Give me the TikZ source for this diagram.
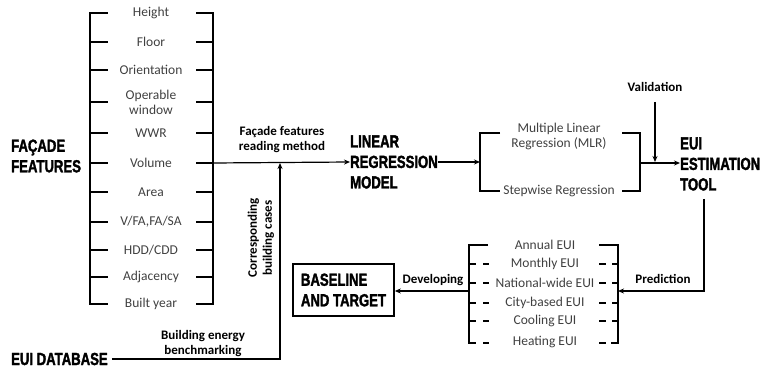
\documentclass[tikz,border=0pt]{standalone}
\usepackage{fontspec}
\setmainfont{Carlito}
\newfontfamily\headfont[FakeStretch=0.75,FakeBold=1.8]{Liberation Sans Bold}
\usetikzlibrary{arrows.meta}
\begin{document}
\begin{tikzpicture}[x=1pt,y=-1pt,
  every node/.style={inner sep=1pt},
  item/.style={align=center, text=black!75, font=\fontsize{13.5}{15}\selectfont},
  lbl/.style={align=center, font=\fontsize{13}{15}\selectfont\bfseries},
  head/.style={align=left, inner sep=0pt, font=\headfont\fontsize{17.5}{20.5}\selectfont},
  brk/.style={line width=1.6pt},
  ln/.style={line width=1.2pt},
  arr/.style={line width=1.2pt, -{Stealth[length=6pt,width=5pt]}}]
\useasboundingbox (0,0) rectangle (765,371);

% ---------- facade features list ----------
\node[head, anchor=west] (ff) at (11,156) {FAÇADE\\FEATURES};
\node[item] (i1) at (151,13) {Height};
\node[item] (i2) at (151,42) {Floor};
\node[item] (i3) at (151,70) {Orientation};
\node[item] (i4) at (151,102) {Operable\\window};
\node[item] (i5) at (151,133) {WWR};
\node[item] (i6) at (151,163) {Volume};
\node[item] (i7) at (151,192) {Area};
\node[item] (i8) at (151,222) {V/FA,FA/SA};
\node[item] (i9) at (151,250) {HDD/CDD};
\node[item] (i10) at (151,277) {Adjacency};
\node[item] (i11) at (151,304) {Built year};
\draw[brk] (90,13) -- (90,304);
\draw[brk] (213,13) -- (213,304);
\foreach \y in {13,42,70,102,133,163,192,222,250,277,304}{
  \draw[brk] (89.2,\y) -- (108,\y);
  \draw[brk] (196,\y) -- (213.8,\y);
}
\coordinate (rb) at (213,163);
\coordinate (join) at (280,163);

% ---------- linear regression ----------
\node[head, anchor=west] (lrm) at (350,162) {LINEAR\\REGRESSION\\MODEL};
\draw[arr] (rb) -- (lrm.west);
\node[lbl] (fr) at (282,140) {Façade features\\reading method};

% ---------- EUI database ----------
\node[head, anchor=west] (db) at (11,359) {EUI DATABASE};
\draw[arr, shorten <=4pt] (db.east) -| (join);
\node[lbl] (be) at (203,344) {Building energy\\benchmarking};
\node[lbl, rotate=90] (cb) at (261,238) {Corresponding\\building cases};

% ---------- regression methods ----------
\node[item] (mlr) at (559,136) {Multiple Linear\\Regression (MLR)};
\node[item] (sw) at (559,191) {Stepwise Regression};
\coordinate (mb) at (480,162);
\draw[arr] (lrm.east) -- (mb);
\draw[brk] (500,133) -- (480,133) -- (480,191) -- (500,191);
\draw[brk] (622,133) -- (640,133) -- (640,191) -- (622,191);
\coordinate (mr) at (640,163);

% ---------- EUI estimation tool ----------
\node[head, anchor=west] (tool) at (680,164) {EUI\\ESTIMATION\\TOOL};
\draw[arr] (mr) -- (tool.west |- mr);
\node[lbl] (val) at (655,87) {Validation};
\coordinate (vin) at (655,162);
\draw[arr] (655,102) -- (vin);

% ---------- EUI outputs ----------
\node[item] (o1) at (545,245) {Annual EUI};
\node[item] (o2) at (545,264) {Monthly EUI};
\node[item] (o3) at (545,283) {National-wide EUI};
\node[item] (o4) at (545,303) {City-based EUI};
\node[item] (o5) at (545,321) {Cooling EUI};
\node[item] (o6) at (545,342) {Heating EUI};
\draw[brk] (488,245) -- (469,245) -- (469,343) -- (476,343);
\draw[brk] (599,245) -- (618,245) -- (618,343) -- (611,343);
\foreach \y in {264,283,303,321,343}{
  \draw[brk] (469,\y) -- (476,\y) (483,\y) -- (489,\y);
  \draw[brk] (599,\y) -- (606,\y) (612,\y) -- (618,\y);
}
\coordinate (tb) at (704,199);
\coordinate (orb) at (618,291);
\draw[arr] (tb) |- (orb);
\node[lbl] (pred) at (663,279) {Prediction};

% ---------- baseline ----------
\node[head, draw, line width=1.6pt, minimum width=101pt, minimum height=52pt,
      inner sep=8pt] (bt) at (343.5,290) {BASELINE\\AND TARGET};
\coordinate (olb) at (469,291);
\draw[arr] (olb) -- (bt.east |- olb);
\node[lbl] (dev) at (433,280) {Developing};
\end{tikzpicture}
\end{document}
